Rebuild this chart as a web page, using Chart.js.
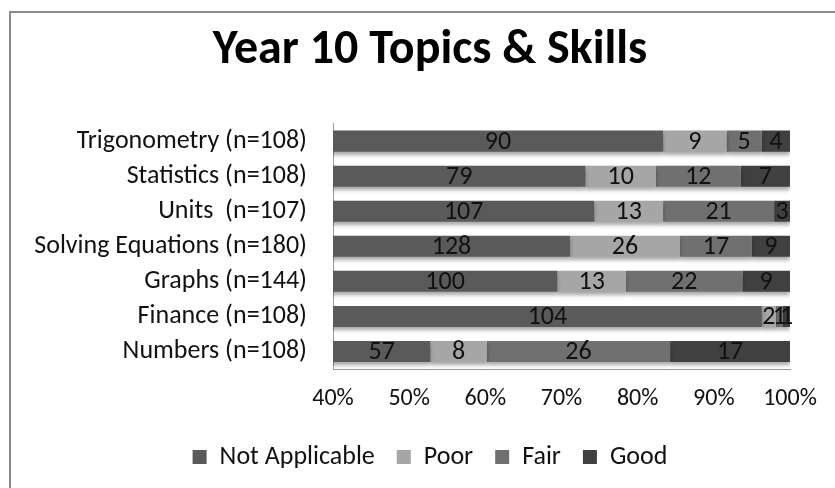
<!DOCTYPE html>
<html>
<head>
<meta charset="utf-8">
<script src="https://cdn.jsdelivr.net/npm/chart.js@4"></script>
<style>
  body { margin: 0; background: #fff; }
  #wrap { position: relative; width: 835px; height: 488px; }
  #frame { position: absolute; left: 9px; top: 11px; right: -5px; bottom: -5px;
           border-left: 2px solid #8c8c8c; border-top: 2px solid #8c8c8c; }
  canvas { position: absolute; left: 0; top: 0; }
</style>
</head>
<body>
<div id="wrap">
  <div id="frame"></div>
  <canvas id="chart" width="835" height="488"></canvas>
</div>
<script>
// topics, top to bottom
const topics = ['Trigonometry (n=108)', 'Statistics (n=108)', 'Units  (n=107)',
                'Solving Equations (n=180)', 'Graphs (n=144)', 'Finance (n=108)', 'Numbers (n=108)'];

// counts per rating
const notApplicable = [90, 79, 107, 128, 100, 104, 57];
const poor          = [9, 10, 13, 26, 13, 2, 8];
const fair          = [5, 12, 21, 17, 22, 1, 26];
const good          = [4, 7, 3, 9, 9, 1, 17];

const ratingNames  = ['Not Applicable', 'Poor', 'Fair', 'Good'];
const ratingColors = ['#5a5a5a', '#a6a6a6', '#707070', '#404040'];

const xTicks = [40, 50, 60, 70, 80, 90, 100];

const FONT = 'Carlito, Lato, sans-serif';

const counts = [notApplicable, poor, fair, good];
const totals = topics.map((t, i) => counts.reduce((s, c) => s + c[i], 0));

const datasets = counts.map((c, k) => ({
  label: ratingNames[k],
  data: c.map((v, i) => v / totals[i] * 100),
  counts: c,
  backgroundColor: ratingColors[k],
  borderWidth: 0,
  barPercentage: 0.6,
  categoryPercentage: 1.0
}));

// drop shadow under bars (Excel look)
const barShadow = {
  id: 'barShadow',
  beforeDatasetDraw(chart) {
    const ctx = chart.ctx;
    ctx.save();
    ctx.shadowColor = 'rgba(0,0,0,0.35)';
    ctx.shadowBlur = 4;
    ctx.shadowOffsetY = 3;
  },
  afterDatasetDraw(chart) {
    chart.ctx.restore();
  }
};

// count labels in the middle of the visible part of each segment
const countLabels = {
  id: 'countLabels',
  afterDatasetsDraw(chart) {
    const ctx = chart.ctx;
    const area = chart.chartArea;
    ctx.save();
    ctx.font = '26px ' + FONT;
    ctx.fillStyle = '#111';
    ctx.textAlign = 'center';
    ctx.textBaseline = 'middle';
    chart.data.datasets.forEach((ds, k) => {
      const meta = chart.getDatasetMeta(k);
      meta.data.forEach((bar, i) => {
        const left = Math.max(Math.min(bar.x, bar.base), area.left);
        const right = Math.min(Math.max(bar.x, bar.base), area.right);
        if (right <= left) return;
        ctx.fillText(ds.counts[i], (left + right) / 2, bar.y + 1);
      });
    });
    ctx.restore();
  }
};

// category names: drawn here so they can run past the layout padding
const topicLabels = {
  id: 'topicLabels',
  afterDraw(chart) {
    const ctx = chart.ctx;
    const y = chart.scales.y;
    ctx.save();
    ctx.font = '26px ' + FONT;
    ctx.fillStyle = '#111';
    ctx.textAlign = 'right';
    ctx.textBaseline = 'middle';
    chart.data.labels.forEach((lab, i) => {
      ctx.fillText(lab, chart.chartArea.left - 26, y.getPixelForValue(i));
    });
    ctx.restore();
  }
};

new Chart(document.getElementById('chart'), {
  type: 'bar',
  data: { labels: topics, datasets: datasets },
  plugins: [barShadow, countLabels, topicLabels],
  options: {
    indexAxis: 'y',
    responsive: false,
    animation: false,
    layout: { padding: { left: 70, right: 45, top: 12, bottom: 8 } },
    scales: {
      x: {
        stacked: true,
        min: 40,
        max: 100,
        afterBuildTicks: (axis) => { axis.ticks = xTicks.map(v => ({ value: v })); },
        grid: { display: false, drawTicks: false },
        border: { display: true, color: '#9a9a9a', width: 1 },
        ticks: {
          padding: 16,
          color: '#111',
          font: { family: FONT, size: 24 },
          callback: v => v + '%'
        },
        afterFit: (axis) => { axis.height = 53; }
      },
      y: {
        stacked: true,
        grid: { display: false, drawTicks: false },
        border: { display: true, color: '#9a9a9a', width: 1 },
        ticks: { display: false },
        afterFit: (axis) => { axis.width = 263; }
      }
    },
    plugins: {
      title: {
        display: true,
        text: 'Year 10 Topics & Skills',
        color: '#000',
        font: { family: FONT, size: 48, weight: 'bold' },
        padding: { top: 10, bottom: 44 }
      },
      legend: {
        position: 'bottom',
        labels: {
          boxWidth: 14,
          boxHeight: 14,
          padding: 22,
          color: '#111',
          font: { family: FONT, size: 26 }
        }
      },
      tooltip: { enabled: false }
    }
  }
});
</script>
</body>
</html>
